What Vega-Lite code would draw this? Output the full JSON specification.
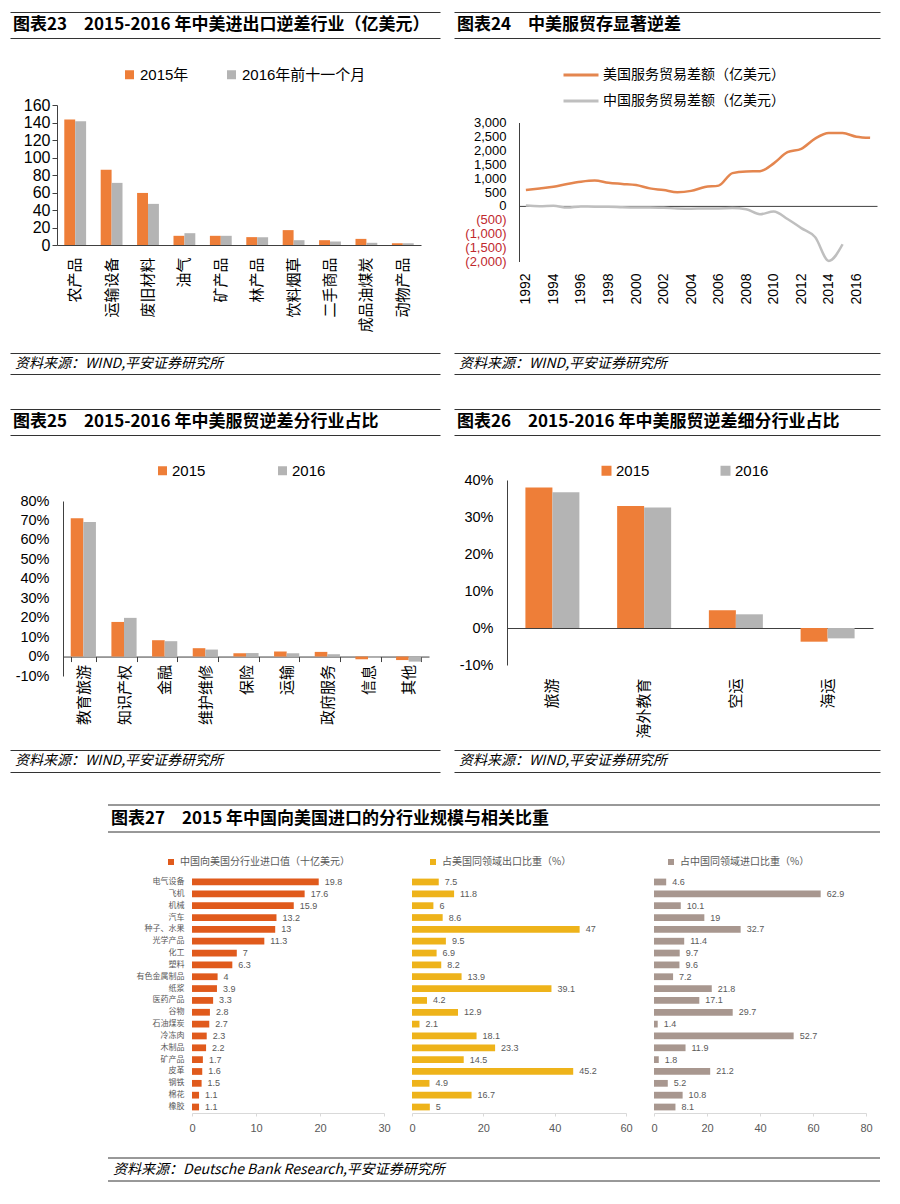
{
"$schema": "https://vega.github.io/schema/vega-lite/v6.json",
"background": "white",
"padding": {"left": 3, "top": 12, "right": 10, "bottom": 10},
"config": {
  "view": {"stroke": null},
  "font": "Liberation Sans, Noto Sans CJK SC",
  "axis": {"grid": false, "domainColor": "#404040", "tickColor": "#404040", "labelColor": "#000", "labelOverlap": false, "labelFlush": false},
  "legend": {"padding": 0, "labelLimit": 400}
},
"datasets": {
  "d23": [
    {"cat": "农产品", "s": "2015年", "v": 143.5}, {"cat": "农产品", "s": "2016年前十一个月", "v": 141.5},
    {"cat": "运输设备", "s": "2015年", "v": 86}, {"cat": "运输设备", "s": "2016年前十一个月", "v": 71},
    {"cat": "废旧材料", "s": "2015年", "v": 59.5}, {"cat": "废旧材料", "s": "2016年前十一个月", "v": 47},
    {"cat": "油气", "s": "2015年", "v": 10.5}, {"cat": "油气", "s": "2016年前十一个月", "v": 13.5},
    {"cat": "矿产品", "s": "2015年", "v": 10.5}, {"cat": "矿产品", "s": "2016年前十一个月", "v": 10.5},
    {"cat": "林产品", "s": "2015年", "v": 9}, {"cat": "林产品", "s": "2016年前十一个月", "v": 9},
    {"cat": "饮料烟草", "s": "2015年", "v": 17}, {"cat": "饮料烟草", "s": "2016年前十一个月", "v": 5.5},
    {"cat": "二手商品", "s": "2015年", "v": 5.5}, {"cat": "二手商品", "s": "2016年前十一个月", "v": 4},
    {"cat": "成品油煤炭", "s": "2015年", "v": 7}, {"cat": "成品油煤炭", "s": "2016年前十一个月", "v": 2.5},
    {"cat": "动物产品", "s": "2015年", "v": 2}, {"cat": "动物产品", "s": "2016年前十一个月", "v": 2}
  ],
  "d24": [
    {"year": 1992, "s": "美国服务贸易差额（亿美元）", "v": 575},
    {"year": 1993, "s": "美国服务贸易差额（亿美元）", "v": 630},
    {"year": 1994, "s": "美国服务贸易差额（亿美元）", "v": 690},
    {"year": 1995, "s": "美国服务贸易差额（亿美元）", "v": 790},
    {"year": 1996, "s": "美国服务贸易差额（亿美元）", "v": 870},
    {"year": 1997, "s": "美国服务贸易差额（亿美元）", "v": 910},
    {"year": 1998, "s": "美国服务贸易差额（亿美元）", "v": 830},
    {"year": 1999, "s": "美国服务贸易差额（亿美元）", "v": 790},
    {"year": 2000, "s": "美国服务贸易差额（亿美元）", "v": 750},
    {"year": 2001, "s": "美国服务贸易差额（亿美元）", "v": 630},
    {"year": 2002, "s": "美国服务贸易差额（亿美元）", "v": 570},
    {"year": 2003, "s": "美国服务贸易差额（亿美元）", "v": 490},
    {"year": 2004, "s": "美国服务贸易差额（亿美元）", "v": 540},
    {"year": 2005, "s": "美国服务贸易差额（亿美元）", "v": 680},
    {"year": 2006, "s": "美国服务贸易差额（亿美元）", "v": 730},
    {"year": 2007, "s": "美国服务贸易差额（亿美元）", "v": 1180},
    {"year": 2008, "s": "美国服务贸易差额（亿美元）", "v": 1240},
    {"year": 2009, "s": "美国服务贸易差额（亿美元）", "v": 1250},
    {"year": 2010, "s": "美国服务贸易差额（亿美元）", "v": 1530},
    {"year": 2011, "s": "美国服务贸易差额（亿美元）", "v": 1930},
    {"year": 2012, "s": "美国服务贸易差额（亿美元）", "v": 2050},
    {"year": 2013, "s": "美国服务贸易差额（亿美元）", "v": 2420},
    {"year": 2014, "s": "美国服务贸易差额（亿美元）", "v": 2620},
    {"year": 2015, "s": "美国服务贸易差额（亿美元）", "v": 2620},
    {"year": 2016, "s": "美国服务贸易差额（亿美元）", "v": 2490},
    {"year": 2017, "s": "美国服务贸易差额（亿美元）", "v": 2450},
    {"year": 1992, "s": "中国服务贸易差额（亿美元）", "v": 10},
    {"year": 1993, "s": "中国服务贸易差额（亿美元）", "v": -10},
    {"year": 1994, "s": "中国服务贸易差额（亿美元）", "v": 5},
    {"year": 1995, "s": "中国服务贸易差额（亿美元）", "v": -60},
    {"year": 1996, "s": "中国服务贸易差额（亿美元）", "v": -20},
    {"year": 1997, "s": "中国服务贸易差额（亿美元）", "v": -30},
    {"year": 1998, "s": "中国服务贸易差额（亿美元）", "v": -30},
    {"year": 1999, "s": "中国服务贸易差额（亿美元）", "v": -50},
    {"year": 2000, "s": "中国服务贸易差额（亿美元）", "v": -60},
    {"year": 2001, "s": "中国服务贸易差额（亿美元）", "v": -60},
    {"year": 2002, "s": "中国服务贸易差额（亿美元）", "v": -70},
    {"year": 2003, "s": "中国服务贸易差额（亿美元）", "v": -90},
    {"year": 2004, "s": "中国服务贸易差额（亿美元）", "v": -100},
    {"year": 2005, "s": "中国服务贸易差额（亿美元）", "v": -90},
    {"year": 2006, "s": "中国服务贸易差额（亿美元）", "v": -90},
    {"year": 2007, "s": "中国服务贸易差额（亿美元）", "v": -80},
    {"year": 2008, "s": "中国服务贸易差额（亿美元）", "v": -120},
    {"year": 2009, "s": "中国服务贸易差额（亿美元）", "v": -300},
    {"year": 2010, "s": "中国服务贸易差额（亿美元）", "v": -200},
    {"year": 2011, "s": "中国服务贸易差额（亿美元）", "v": -470},
    {"year": 2012, "s": "中国服务贸易差额（亿美元）", "v": -800},
    {"year": 2013, "s": "中国服务贸易差额（亿美元）", "v": -1120},
    {"year": 2014, "s": "中国服务贸易差额（亿美元）", "v": -1980},
    {"year": 2015, "s": "中国服务贸易差额（亿美元）", "v": -1380}
  ],
  "d25": [
    {"cat": "教育旅游", "s": "2015", "v": 0.711}, {"cat": "教育旅游", "s": "2016", "v": 0.692},
    {"cat": "知识产权", "s": "2015", "v": 0.178}, {"cat": "知识产权", "s": "2016", "v": 0.199},
    {"cat": "金融", "s": "2015", "v": 0.084}, {"cat": "金融", "s": "2016", "v": 0.079},
    {"cat": "维护维修", "s": "2015", "v": 0.043}, {"cat": "维护维修", "s": "2016", "v": 0.036},
    {"cat": "保险", "s": "2015", "v": 0.017}, {"cat": "保险", "s": "2016", "v": 0.018},
    {"cat": "运输", "s": "2015", "v": 0.026}, {"cat": "运输", "s": "2016", "v": 0.017},
    {"cat": "政府服务", "s": "2015", "v": 0.024}, {"cat": "政府服务", "s": "2016", "v": 0.012},
    {"cat": "信息", "s": "2015", "v": -0.014}, {"cat": "信息", "s": "2016", "v": -0.007},
    {"cat": "其他", "s": "2015", "v": -0.018}, {"cat": "其他", "s": "2016", "v": -0.026}
  ],
  "d26": [
    {"cat": "旅游", "s": "2015", "v": 0.38}, {"cat": "旅游", "s": "2016", "v": 0.367},
    {"cat": "海外教育", "s": "2015", "v": 0.33}, {"cat": "海外教育", "s": "2016", "v": 0.326},
    {"cat": "空运", "s": "2015", "v": 0.048}, {"cat": "空运", "s": "2016", "v": 0.037},
    {"cat": "海运", "s": "2015", "v": -0.037}, {"cat": "海运", "s": "2016", "v": -0.028}
  ],
  "d27": [
    {"cat": "电气设备", "imp": 19.8, "us": 7.5, "cn": 4.6},
    {"cat": "飞机", "imp": 17.6, "us": 11.8, "cn": 62.9},
    {"cat": "机械", "imp": 15.9, "us": 6, "cn": 10.1},
    {"cat": "汽车", "imp": 13.2, "us": 8.6, "cn": 19},
    {"cat": "种子、水果", "imp": 13, "us": 47, "cn": 32.7},
    {"cat": "光学产品", "imp": 11.3, "us": 9.5, "cn": 11.4},
    {"cat": "化工", "imp": 7, "us": 6.9, "cn": 9.7},
    {"cat": "塑料", "imp": 6.3, "us": 8.2, "cn": 9.6},
    {"cat": "有色金属制品", "imp": 4, "us": 13.9, "cn": 7.2},
    {"cat": "纸浆", "imp": 3.9, "us": 39.1, "cn": 21.8},
    {"cat": "医药产品", "imp": 3.3, "us": 4.2, "cn": 17.1},
    {"cat": "谷物", "imp": 2.8, "us": 12.9, "cn": 29.7},
    {"cat": "石油煤炭", "imp": 2.7, "us": 2.1, "cn": 1.4},
    {"cat": "冷冻肉", "imp": 2.3, "us": 18.1, "cn": 52.7},
    {"cat": "木制品", "imp": 2.2, "us": 23.3, "cn": 11.9},
    {"cat": "矿产品", "imp": 1.7, "us": 14.5, "cn": 1.8},
    {"cat": "皮革", "imp": 1.6, "us": 45.2, "cn": 21.2},
    {"cat": "钢铁", "imp": 1.5, "us": 4.9, "cn": 5.2},
    {"cat": "棉花", "imp": 1.1, "us": 16.7, "cn": 10.8},
    {"cat": "橡胶", "imp": 1.1, "us": 5, "cn": 8.1}
  ]
},
"spacing": 0,
"resolve": {"scale": {"color": "independent"}, "legend": {"color": "independent"}},
"vconcat": [
  {"spacing": 14,
   "hconcat": [
    {"width": 430, "height": 44,
     "data": {"values": [{"t": "图表23　2015-2016 年中美进出口逆差行业（亿美元）"}]},
     "mark": {"type": "text", "align": "left", "baseline": "middle", "dx": 3, "font": "Noto Sans CJK SC", "fontWeight": "bold", "fontSize": 17, "color": "#000"},
     "encoding": {"text": {"field": "t"},
       "x": {"datum": 0, "type": "quantitative", "scale": {"domain": [0, 1]}, "axis": null},
       "y": {"datum": 13, "type": "quantitative", "scale": {"domain": [-18, 26], "nice": false, "zero": false}, "axis": {"grid": true, "gridColor": "#333", "gridWidth": 1, "values": [0, 26], "labels": false, "ticks": false, "domain": false, "title": null}}}},
    {"width": 426, "height": 44,
     "data": {"values": [{"t": "图表24　中美服贸存显著逆差"}]},
     "mark": {"type": "text", "align": "left", "baseline": "middle", "dx": 3, "font": "Noto Sans CJK SC", "fontWeight": "bold", "fontSize": 17, "color": "#000"},
     "encoding": {"text": {"field": "t"},
       "x": {"datum": 0, "type": "quantitative", "scale": {"domain": [0, 1]}, "axis": null},
       "y": {"datum": 13, "type": "quantitative", "scale": {"domain": [-18, 26], "nice": false, "zero": false}, "axis": {"grid": true, "gridColor": "#333", "gridWidth": 1, "values": [0, 26], "labels": false, "ticks": false, "domain": false, "title": null}}}}
  ]},
  {"spacing": 14,
   "resolve": {"scale": {"color": "independent"}, "legend": {"color": "independent"}},
   "hconcat": [
    {"width": 430, "height": 178,
     "data": {"name": "d23"},
     "encoding": {
       "x": {"field": "cat", "type": "nominal", "sort": null, "scale": {"range": [47, 411], "paddingInner": 0.4, "paddingOuter": 0.2},
             "axis": {"title": null, "labelAngle": -90, "labelFont": "Noto Sans CJK SC", "labelFontSize": 15, "labelPadding": 12, "ticks": false}},
       "y": {"field": "v", "type": "quantitative", "scale": {"domain": [0, 160], "nice": false, "range": [178, 38]},
             "axis": {"title": null, "offset": -47, "values": [0, 20, 40, 60, 80, 100, 120, 140, 160], "labelFontSize": 16, "tickSize": 5, "labelPadding": 2, "labelOverlap": false}},
       "color": {"field": "s", "type": "nominal", "scale": {"domain": ["2015年", "2016年前十一个月"], "range": ["#EE7E38", "#B4B4B4"]},
                 "legend": {"title": null, "orient": "none", "legendX": 112, "legendY": 0, "direction": "horizontal", "symbolType": "square", "symbolSize": 81, "labelFontSize": 15, "columnPadding": 35, "labelOffset": 3}}
     },
     "layer": [
       {"transform": [{"filter": "datum.s === '2015年'"}], "mark": {"type": "bar", "width": 10.9, "xOffset": -5.46}},
       {"transform": [{"filter": "datum.s === '2016年前十一个月'"}], "mark": {"type": "bar", "width": 10.9, "xOffset": 5.46}}
     ]},
    {"width": 426, "height": 194.5,
     "data": {"name": "d24"},
     "mark": {"type": "line", "strokeWidth": 2.5, "interpolate": "monotone"},
     "encoding": {
       "x": {"field": "year", "type": "quantitative", "scale": {"domain": [1991.5, 2017.5], "nice": false, "zero": false, "range": [65, 423]},
             "axis": {"title": null, "offset": -55.6, "values": [1992, 1994, 1996, 1998, 2000, 2002, 2004, 2006, 2008, 2010, 2012, 2014, 2016], "format": "d", "labelAngle": -90, "labelFontSize": 14, "labelPadding": 67, "ticks": false, "domain": true}},
       "y": {"field": "v", "type": "quantitative", "scale": {"domain": [-2000, 3000], "nice": false, "range": [194.5, 55.5]},
             "axis": {"title": null, "offset": -65, "values": [-2000, -1500, -1000, -500, 0, 500, 1000, 1500, 2000, 2500, 3000], "labelFontSize": 13, "ticks": false, "labelPadding": 13, "labelOverlap": false,
                      "labelExpr": "datum.value < 0 ? '(' + format(-datum.value, ',') + ')' : format(datum.value, ',')",
                      "labelColor": {"condition": {"test": "datum.value < 0", "value": "#C0282D"}, "value": "#000"}}},
       "color": {"field": "s", "type": "nominal", "scale": {"domain": ["美国服务贸易差额（亿美元）", "中国服务贸易差额（亿美元）"], "range": ["#E4864F", "#BFBFBF"]},
                 "legend": {"title": null, "orient": "none", "legendX": 108, "legendY": -11, "direction": "vertical", "symbolType": "stroke", "symbolSize": 1225, "symbolStrokeWidth": 3, "labelFont": "Noto Sans CJK SC", "labelFontSize": 14, "rowPadding": -8, "labelOffset": 3, "labelLimit": 400}}
     }}
  ]},
  {"spacing": 14,
   "hconcat": [
    {"width": 430, "height": 41,
     "data": {"values": [{"t": "资料来源：WIND,平安证券研究所"}]},
     "mark": {"type": "text", "align": "left", "baseline": "middle", "dx": 5, "font": "Noto Sans CJK SC", "fontStyle": "italic", "fontSize": 14, "color": "#000"},
     "encoding": {"text": {"field": "t"},
       "x": {"datum": 0, "type": "quantitative", "scale": {"domain": [0, 1]}, "axis": null},
       "y": {"datum": 10.5, "type": "quantitative", "scale": {"domain": [0, 41], "nice": false, "zero": false}, "axis": {"grid": true, "gridColor": "#333", "gridWidth": 1, "values": [0, 21], "labels": false, "ticks": false, "domain": false, "title": null}}}},
    {"width": 426, "height": 41,
     "data": {"values": [{"t": "资料来源：WIND,平安证券研究所"}]},
     "mark": {"type": "text", "align": "left", "baseline": "middle", "dx": 5, "font": "Noto Sans CJK SC", "fontStyle": "italic", "fontSize": 14, "color": "#000"},
     "encoding": {"text": {"field": "t"},
       "x": {"datum": 0, "type": "quantitative", "scale": {"domain": [0, 1]}, "axis": null},
       "y": {"datum": 10.5, "type": "quantitative", "scale": {"domain": [0, 41], "nice": false, "zero": false}, "axis": {"grid": true, "gridColor": "#333", "gridWidth": 1, "values": [0, 21], "labels": false, "ticks": false, "domain": false, "title": null}}}}
  ]},
  {"spacing": 14,
   "hconcat": [
    {"width": 430, "height": 89,
     "data": {"values": [{"t": "图表25　2015-2016 年中美服贸逆差分行业占比"}]},
     "mark": {"type": "text", "align": "left", "baseline": "middle", "dx": 3, "font": "Noto Sans CJK SC", "fontWeight": "bold", "fontSize": 17, "color": "#000"},
     "encoding": {"text": {"field": "t"},
       "x": {"datum": 0, "type": "quantitative", "scale": {"domain": [0, 1]}, "axis": null},
       "y": {"datum": 13, "type": "quantitative", "scale": {"domain": [-28, 61], "nice": false, "zero": false}, "axis": {"grid": true, "gridColor": "#333", "gridWidth": 1, "values": [0, 26], "labels": false, "ticks": false, "domain": false, "title": null}}}},
    {"width": 426, "height": 89,
     "data": {"values": [{"t": "图表26　2015-2016 年中美服贸逆差细分行业占比"}]},
     "mark": {"type": "text", "align": "left", "baseline": "middle", "dx": 3, "font": "Noto Sans CJK SC", "fontWeight": "bold", "fontSize": 17, "color": "#000"},
     "encoding": {"text": {"field": "t"},
       "x": {"datum": 0, "type": "quantitative", "scale": {"domain": [0, 1]}, "axis": null},
       "y": {"datum": 13, "type": "quantitative", "scale": {"domain": [-28, 61], "nice": false, "zero": false}, "axis": {"grid": true, "gridColor": "#333", "gridWidth": 1, "values": [0, 26], "labels": false, "ticks": false, "domain": false, "title": null}}}}
  ]},
  {"spacing": 14,
   "resolve": {"scale": {"color": "independent"}, "legend": {"color": "independent"}},
   "hconcat": [
    {"width": 430, "height": 213,
     "data": {"name": "d25"},
     "encoding": {
       "x": {"field": "cat", "type": "nominal", "sort": null, "scale": {"range": [53, 419], "paddingInner": 0.38, "paddingOuter": 0.19},
             "axis": {"title": null, "labelAngle": -90, "labelFont": "Noto Sans CJK SC", "labelFontSize": 15, "offset": -19.44, "tickBand": "extent", "tickSize": 5, "labelPadding": 3}},
       "y": {"field": "v", "type": "quantitative", "scale": {"domain": [-0.1, 0.8], "nice": false, "range": [213, 38]},
             "axis": {"title": null, "offset": -53, "values": [-0.1, 0, 0.1, 0.2, 0.3, 0.4, 0.5, 0.6, 0.7, 0.8], "labelExpr": "replace(format(datum.value, '.0%'), '−', '-')", "labelFontSize": 14.5, "ticks": false, "labelPadding": 14, "labelOverlap": false}},
       "color": {"field": "s", "type": "nominal", "scale": {"domain": ["2015", "2016"], "range": ["#EE7E38", "#B4B4B4"]},
                 "legend": {"title": null, "orient": "none", "legendX": 145, "legendY": 0, "direction": "horizontal", "symbolType": "square", "symbolSize": 81, "labelFontSize": 15, "columnPadding": 69, "labelOffset": 2}}
     },
     "layer": [
       {"transform": [{"filter": "datum.s === '2015'"}], "mark": {"type": "bar", "width": 12.6, "xOffset": -6.3}},
       {"transform": [{"filter": "datum.s === '2016'"}], "mark": {"type": "bar", "width": 12.6, "xOffset": 6.3}}
     ]},
    {"width": 426, "height": 202,
     "data": {"name": "d26"},
     "encoding": {
       "x": {"field": "cat", "type": "nominal", "sort": null, "scale": {"range": [53, 419], "paddingInner": 0.41, "paddingOuter": 0.2},
             "axis": {"title": null, "labelAngle": -90, "labelFont": "Noto Sans CJK SC", "labelFontSize": 15, "offset": -37, "labelPadding": 50, "ticks": false, "domain": true}},
       "y": {"field": "v", "type": "quantitative", "scale": {"domain": [-0.1, 0.4], "nice": false, "range": [202, 17]},
             "axis": {"title": null, "offset": -53, "values": [-0.1, 0, 0.1, 0.2, 0.3, 0.4], "labelExpr": "replace(format(datum.value, '.0%'), '−', '-')", "labelFontSize": 14.5, "ticks": false, "labelPadding": 14, "labelOverlap": false}},
       "color": {"field": "s", "type": "nominal", "scale": {"domain": ["2015", "2016"], "range": ["#EE7E38", "#B4B4B4"]},
                 "legend": {"title": null, "orient": "none", "legendX": 145, "legendY": 0, "direction": "horizontal", "symbolType": "square", "symbolSize": 100, "labelFontSize": 15, "columnPadding": 68, "labelOffset": 2}}
     },
     "layer": [
       {"transform": [{"filter": "datum.s === '2015'"}], "mark": {"type": "bar", "width": 27, "xOffset": -13.5}},
       {"transform": [{"filter": "datum.s === '2016'"}], "mark": {"type": "bar", "width": 27, "xOffset": 13.5}}
     ]}
  ]},
  {"spacing": 14,
   "hconcat": [
    {"width": 430, "height": 33,
     "data": {"values": [{"t": "资料来源：WIND,平安证券研究所"}]},
     "mark": {"type": "text", "align": "left", "baseline": "middle", "dx": 5, "font": "Noto Sans CJK SC", "fontStyle": "italic", "fontSize": 14, "color": "#000"},
     "encoding": {"text": {"field": "t"},
       "x": {"datum": 0, "type": "quantitative", "scale": {"domain": [0, 1]}, "axis": null},
       "y": {"datum": 11, "type": "quantitative", "scale": {"domain": [0, 33], "nice": false, "zero": false}, "axis": {"grid": true, "gridColor": "#333", "gridWidth": 1, "values": [0, 22], "labels": false, "ticks": false, "domain": false, "title": null}}}},
    {"width": 426, "height": 33,
     "data": {"values": [{"t": "资料来源：WIND,平安证券研究所"}]},
     "mark": {"type": "text", "align": "left", "baseline": "middle", "dx": 5, "font": "Noto Sans CJK SC", "fontStyle": "italic", "fontSize": 14, "color": "#000"},
     "encoding": {"text": {"field": "t"},
       "x": {"datum": 0, "type": "quantitative", "scale": {"domain": [0, 1]}, "axis": null},
       "y": {"datum": 11, "type": "quantitative", "scale": {"domain": [0, 33], "nice": false, "zero": false}, "axis": {"grid": true, "gridColor": "#333", "gridWidth": 1, "values": [0, 22], "labels": false, "ticks": false, "domain": false, "title": null}}}}
  ]},
  {"width": 870, "height": 85,
   "data": {"values": [{"t": "图表27　2015 年中国向美国进口的分行业规模与相关比重"}]},
   "encoding": {
     "x": {"datum": 0, "type": "quantitative", "scale": {"domain": [0, 1], "range": [98, 870]}, "axis": null},
     "y": {"datum": 13.5, "type": "quantitative", "scale": {"domain": [-25, 60], "nice": false, "zero": false}, "axis": null}
   },
   "layer": [
     {"mark": {"type": "text", "align": "left", "baseline": "middle", "dx": 3, "font": "Noto Sans CJK SC", "fontWeight": "bold", "fontSize": 17, "color": "#000"},
      "encoding": {"text": {"field": "t"}}},
     {"mark": {"type": "rule", "color": "#333", "strokeWidth": 1},
      "encoding": {"x2": {"datum": 1}, "y": {"datum": 27}}},
     {"mark": {"type": "rule", "color": "#333", "strokeWidth": 1},
      "encoding": {"x2": {"datum": 1}, "y": {"datum": 0}}}
   ]},
  {"spacing": 17,
   "resolve": {"scale": {"color": "independent"}, "legend": {"color": "independent"}},
   "hconcat": [
    {"width": 374, "height": 237,
     "data": {"name": "d27"},
     "layer": [
       {"mark": {"type": "bar"},
        "encoding": {
          "y": {"field": "cat", "type": "nominal", "sort": null, "scale": {"paddingInner": 0.43, "paddingOuter": 0.22},
                "axis": {"title": null, "offset": -182, "labelFont": "Noto Sans CJK SC", "labelFontSize": 8, "labelColor": "#595959", "domain": false, "ticks": false, "labelPadding": 8}},
          "x": {"field": "imp", "type": "quantitative", "scale": {"domain": [0, 30], "nice": false, "range": [182, 374]},
                "axis": {"title": null, "values": [0, 10, 20, 30], "labelFontSize": 11, "labelColor": "#595959", "domainColor": "#D9D9D9", "tickColor": "#D9D9D9", "tickSize": 3, "labelPadding": 6}},
          "color": {"datum": "中国向美国分行业进口值（十亿美元）", "scale": {"range": ["#E05A1C"]},
                    "legend": {"title": null, "orient": "none", "legendX": 156, "legendY": -19, "symbolType": "square", "symbolSize": 36, "labelFont": "Noto Sans CJK SC", "labelFontSize": 10, "labelColor": "#595959", "labelOffset": 4}}
        }},
       {"mark": {"type": "text", "align": "left", "baseline": "middle", "dx": 6, "fontSize": 9, "color": "#595959"},
        "encoding": {
          "y": {"field": "cat", "type": "nominal", "sort": null},
          "x": {"field": "imp", "type": "quantitative"},
          "text": {"field": "imp"}
        }}
     ]},
    {"width": 214, "height": 237,
     "data": {"name": "d27"},
     "layer": [
       {"mark": {"type": "bar"},
        "encoding": {
          "y": {"field": "cat", "type": "nominal", "sort": null, "scale": {"paddingInner": 0.43, "paddingOuter": 0.22}, "axis": null},
          "x": {"field": "us", "type": "quantitative", "scale": {"domain": [0, 60], "nice": false},
                "axis": {"title": null, "values": [0, 20, 40, 60], "labelFontSize": 11, "labelColor": "#595959", "domainColor": "#D9D9D9", "tickColor": "#D9D9D9", "tickSize": 3, "labelPadding": 6}},
          "color": {"datum": "占美国同领域出口比重（%）", "scale": {"range": ["#EEB31A"]},
                    "legend": {"title": null, "orient": "none", "legendX": 16, "legendY": -19, "symbolType": "square", "symbolSize": 36, "labelFont": "Noto Sans CJK SC", "labelFontSize": 10, "labelColor": "#595959", "labelOffset": 4}}
        }},
       {"mark": {"type": "text", "align": "left", "baseline": "middle", "dx": 6, "fontSize": 9, "color": "#595959"},
        "encoding": {
          "y": {"field": "cat", "type": "nominal", "sort": null},
          "x": {"field": "us", "type": "quantitative"},
          "text": {"field": "us"}
        }}
     ]},
    {"width": 212, "height": 237,
     "data": {"name": "d27"},
     "layer": [
       {"mark": {"type": "bar"},
        "encoding": {
          "y": {"field": "cat", "type": "nominal", "sort": null, "scale": {"paddingInner": 0.43, "paddingOuter": 0.22}, "axis": null},
          "x": {"field": "cn", "type": "quantitative", "scale": {"domain": [0, 80], "nice": false},
                "axis": {"title": null, "values": [0, 20, 40, 60, 80], "labelFontSize": 11, "labelColor": "#595959", "domainColor": "#D9D9D9", "tickColor": "#D9D9D9", "tickSize": 3, "labelPadding": 6}},
          "color": {"datum": "占中国同领域进口比重（%）", "scale": {"range": ["#A8978F"]},
                    "legend": {"title": null, "orient": "none", "legendX": 12, "legendY": -19, "symbolType": "square", "symbolSize": 36, "labelFont": "Noto Sans CJK SC", "labelFontSize": 10, "labelColor": "#595959", "labelOffset": 4}}
        }},
       {"mark": {"type": "text", "align": "left", "baseline": "middle", "dx": 6, "fontSize": 9, "color": "#595959"},
        "encoding": {
          "y": {"field": "cat", "type": "nominal", "sort": null},
          "x": {"field": "cn", "type": "quantitative"},
          "text": {"field": "cn"}
        }}
     ]}
  ]},
  {"width": 870, "height": 48,
   "data": {"values": [{"t": "资料来源：Deutsche Bank Research,平安证券研究所"}]},
   "encoding": {
     "x": {"datum": 0, "type": "quantitative", "scale": {"domain": [0, 1], "range": [98, 870]}, "axis": null},
     "y": {"datum": 11.5, "type": "quantitative", "scale": {"domain": [0, 48], "nice": false, "zero": false}, "axis": null}
   },
   "layer": [
     {"mark": {"type": "text", "align": "left", "baseline": "middle", "dx": 5, "font": "Noto Sans CJK SC", "fontStyle": "italic", "fontSize": 14, "color": "#000"},
      "encoding": {"text": {"field": "t"}}},
     {"mark": {"type": "rule", "color": "#333", "strokeWidth": 1},
      "encoding": {"x2": {"datum": 1}, "y": {"datum": 23}}},
     {"mark": {"type": "rule", "color": "#333", "strokeWidth": 1},
      "encoding": {"x2": {"datum": 1}, "y": {"datum": 0}}}
   ]}
]
}
